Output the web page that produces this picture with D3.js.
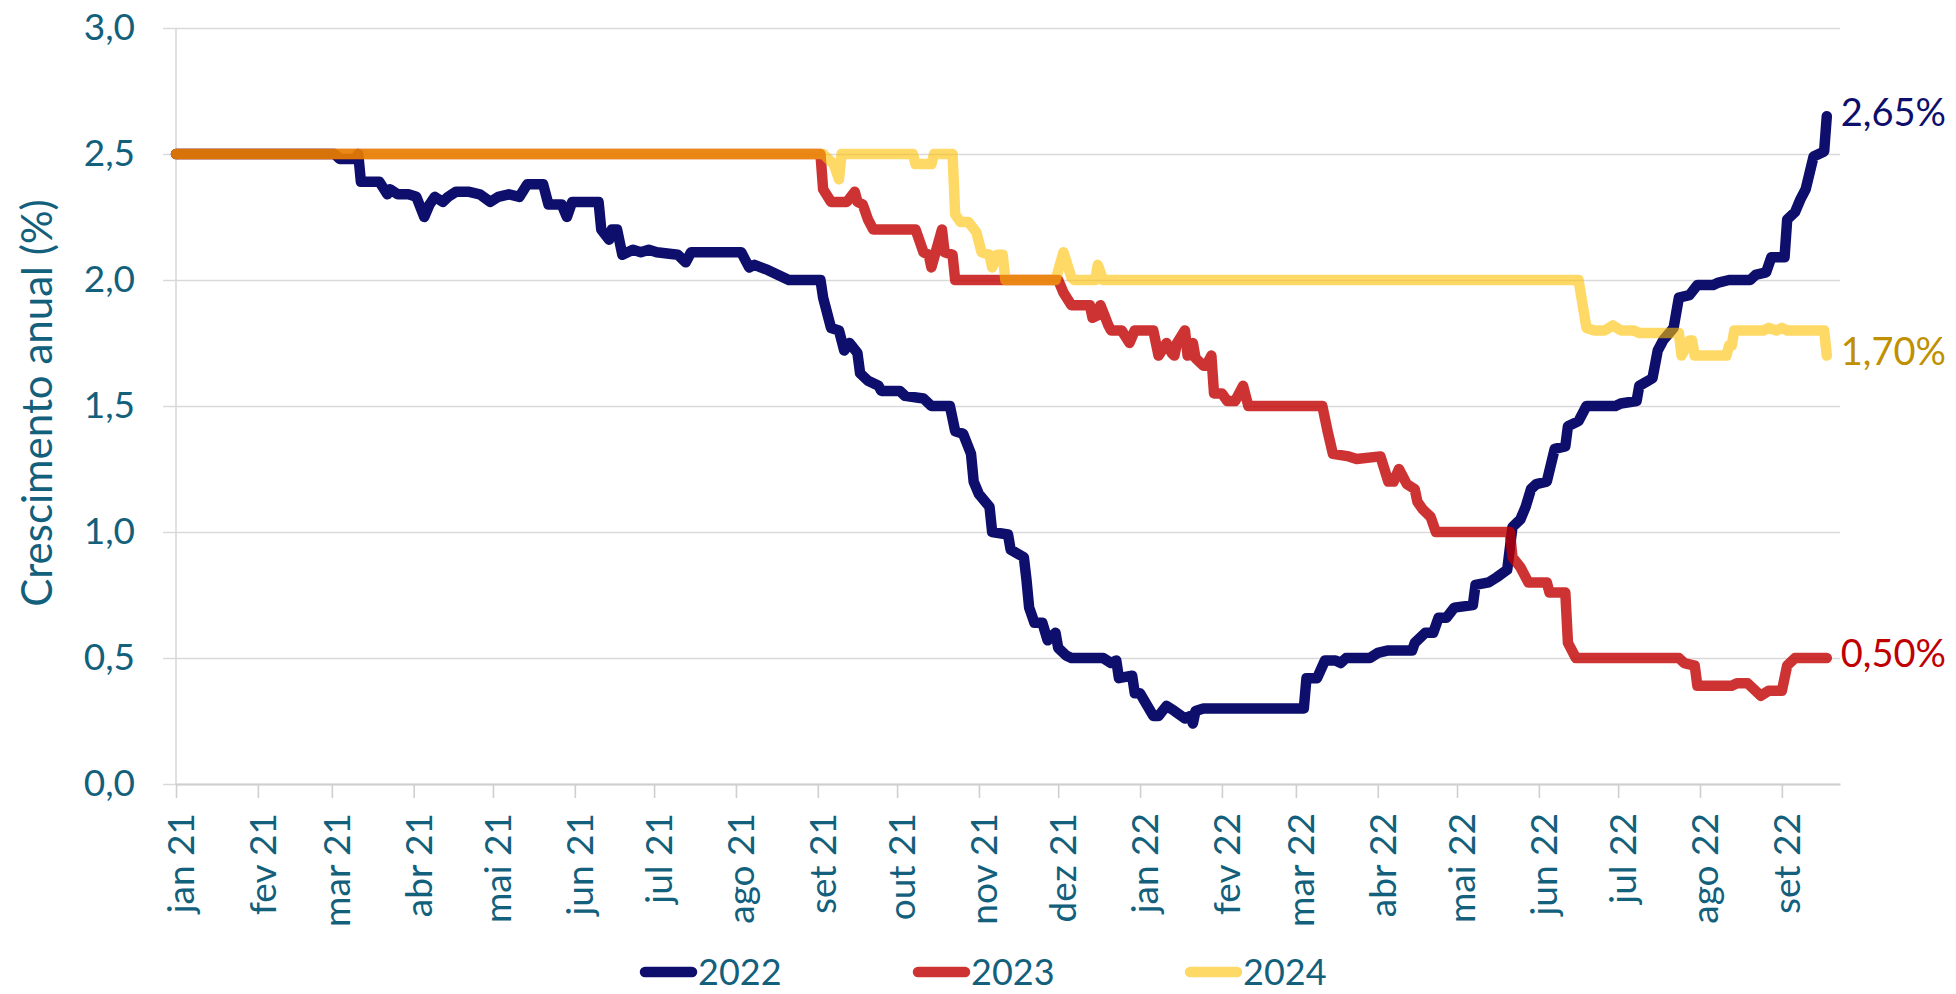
<!DOCTYPE html>
<html>
<head>
<meta charset="utf-8">
<script src="https://cdn.jsdelivr.net/npm/d3@7"></script>
<style>
  html, body { margin: 0; padding: 0; background: #fff; }
  svg { display: block; font-family: Lato, "Noto Sans", sans-serif; }
</style>
</head>
<body>
<svg id="chart" width="1956" height="994"></svg>
<script>
// valores (crescimento anual, %)
const series2022 = [
  ["2021-01-01",2.50],["2021-03-02",2.50],["2021-03-04",2.48],["2021-03-10",2.48],["2021-03-11",2.50],
  ["2021-03-12",2.39],["2021-03-19",2.39],["2021-03-22",2.34],["2021-03-23",2.36],["2021-03-26",2.34],
  ["2021-03-30",2.34],["2021-04-02",2.33],["2021-04-05",2.25],["2021-04-07",2.30],["2021-04-09",2.33],
  ["2021-04-12",2.31],["2021-04-14",2.33],["2021-04-17",2.35],["2021-04-22",2.35],["2021-04-26",2.34],
  ["2021-04-30",2.31],["2021-05-03",2.33],["2021-05-07",2.34],["2021-05-11",2.33],["2021-05-14",2.38],
  ["2021-05-20",2.38],["2021-05-22",2.30],["2021-05-27",2.30],["2021-05-29",2.25],["2021-05-31",2.31],
  ["2021-06-10",2.31],["2021-06-11",2.20],["2021-06-14",2.16],["2021-06-15",2.20],["2021-06-17",2.20],
  ["2021-06-19",2.10],["2021-06-23",2.12],["2021-06-26",2.11],["2021-06-29",2.12],["2021-07-02",2.11],
  ["2021-07-10",2.10],["2021-07-13",2.07],["2021-07-15",2.11],["2021-07-27",2.11],["2021-08-03",2.11],
  ["2021-08-06",2.05],["2021-08-08",2.06],["2021-08-13",2.04],["2021-08-17",2.02],["2021-08-21",2.00],
  ["2021-09-02",2.00],["2021-09-03",1.93],["2021-09-06",1.81],["2021-09-09",1.80],["2021-09-11",1.72],
  ["2021-09-13",1.75],["2021-09-16",1.71],["2021-09-17",1.63],["2021-09-20",1.60],["2021-09-24",1.58],
  ["2021-09-25",1.56],["2021-10-02",1.56],["2021-10-04",1.54],["2021-10-11",1.53],["2021-10-14",1.50],
  ["2021-10-21",1.50],["2021-10-23",1.40],["2021-10-26",1.39],["2021-10-29",1.31],["2021-10-30",1.20],
  ["2021-11-01",1.15],["2021-11-05",1.10],["2021-11-06",1.00],["2021-11-12",0.99],["2021-11-13",0.93],
  ["2021-11-18",0.90],["2021-11-19",0.81],["2021-11-20",0.70],["2021-11-22",0.64],["2021-11-25",0.64],
  ["2021-11-27",0.57],["2021-11-30",0.60],["2021-12-01",0.54],["2021-12-04",0.51],["2021-12-06",0.50],
  ["2021-12-18",0.50],["2021-12-21",0.48],["2021-12-23",0.49],["2021-12-24",0.42],["2021-12-29",0.43],
  ["2021-12-30",0.36],["2022-01-01",0.36],["2022-01-06",0.27],["2022-01-08",0.27],["2022-01-11",0.31],
  ["2022-01-14",0.29],["2022-01-18",0.26],["2022-01-20",0.27],["2022-01-21",0.24],["2022-01-22",0.29],
  ["2022-01-25",0.30],["2022-03-04",0.30],["2022-03-05",0.42],["2022-03-09",0.42],["2022-03-12",0.49],
  ["2022-03-16",0.49],["2022-03-18",0.48],["2022-03-20",0.50],["2022-03-29",0.50],["2022-04-01",0.52],
  ["2022-04-05",0.53],["2022-04-14",0.53],["2022-04-15",0.56],["2022-04-19",0.60],["2022-04-22",0.60],
  ["2022-04-24",0.66],["2022-04-27",0.66],["2022-04-30",0.70],["2022-05-07",0.71],["2022-05-08",0.79],
  ["2022-05-13",0.80],["2022-05-16",0.82],["2022-05-20",0.85],["2022-05-22",1.02],["2022-05-25",1.05],
  ["2022-05-27",1.10],["2022-05-29",1.17],["2022-05-31",1.19],["2022-06-04",1.20],["2022-06-07",1.33],
  ["2022-06-11",1.34],["2022-06-12",1.42],["2022-06-16",1.44],["2022-06-19",1.50],["2022-06-30",1.50],
  ["2022-07-02",1.51],["2022-07-08",1.52],["2022-07-09",1.58],["2022-07-14",1.61],["2022-07-16",1.72],
  ["2022-07-18",1.76],["2022-07-22",1.81],["2022-07-24",1.93],["2022-07-28",1.94],["2022-07-31",1.98],
  ["2022-08-06",1.98],["2022-08-08",1.99],["2022-08-12",2.00],["2022-08-20",2.00],["2022-08-22",2.02],
  ["2022-08-26",2.03],["2022-08-28",2.09],["2022-09-02",2.09],["2022-09-03",2.24],["2022-09-06",2.27],
  ["2022-09-08",2.32],["2022-09-10",2.36],["2022-09-13",2.49],["2022-09-15",2.50],["2022-09-17",2.51],
  ["2022-09-18",2.65]
];

const series2023 = [
  ["2021-01-01",2.50],["2021-09-02",2.50],["2021-09-03",2.36],["2021-09-06",2.31],["2021-09-12",2.31],
  ["2021-09-15",2.35],["2021-09-16",2.31],["2021-09-18",2.30],["2021-09-20",2.24],["2021-09-22",2.20],
  ["2021-10-08",2.20],["2021-10-11",2.11],["2021-10-13",2.10],["2021-10-14",2.05],["2021-10-18",2.20],
  ["2021-10-19",2.11],["2021-10-22",2.10],["2021-10-23",2.00],["2021-12-01",2.00],["2021-12-03",1.95],
  ["2021-12-06",1.90],["2021-12-13",1.90],["2021-12-14",1.85],["2021-12-16",1.86],["2021-12-17",1.90],
  ["2021-12-20",1.82],["2021-12-21",1.80],["2021-12-25",1.80],["2021-12-28",1.75],["2021-12-30",1.80],
  ["2022-01-06",1.80],["2022-01-08",1.70],["2022-01-11",1.75],["2022-01-13",1.71],["2022-01-14",1.70],
  ["2022-01-15",1.75],["2022-01-18",1.80],["2022-01-19",1.70],["2022-01-21",1.75],["2022-01-22",1.69],
  ["2022-01-25",1.66],["2022-01-26",1.66],["2022-01-28",1.70],["2022-01-29",1.55],["2022-02-01",1.55],
  ["2022-02-03",1.52],["2022-02-06",1.52],["2022-02-09",1.58],["2022-02-11",1.50],["2022-03-11",1.50],
  ["2022-03-13",1.40],["2022-03-15",1.31],["2022-03-21",1.30],["2022-03-24",1.29],["2022-04-02",1.30],
  ["2022-04-05",1.20],["2022-04-07",1.20],["2022-04-09",1.25],["2022-04-12",1.19],["2022-04-15",1.17],
  ["2022-04-16",1.12],["2022-04-18",1.09],["2022-04-21",1.06],["2022-04-23",1.00],["2022-05-21",1.00],
  ["2022-05-22",0.90],["2022-05-25",0.86],["2022-05-28",0.80],["2022-06-04",0.80],["2022-06-05",0.76],
  ["2022-06-11",0.76],["2022-06-12",0.56],["2022-06-15",0.50],["2022-07-24",0.50],["2022-07-26",0.48],
  ["2022-07-30",0.47],["2022-07-31",0.39],["2022-08-13",0.39],["2022-08-15",0.40],["2022-08-19",0.40],
  ["2022-08-24",0.35],["2022-08-27",0.37],["2022-09-01",0.37],["2022-09-03",0.47],["2022-09-06",0.50],
  ["2022-09-18",0.50]
];

const series2024 = [
  ["2021-01-01",2.50],["2021-09-03",2.50],["2021-09-07",2.46],["2021-09-09",2.40],["2021-09-10",2.50],
  ["2021-10-07",2.50],["2021-10-08",2.46],["2021-10-14",2.46],["2021-10-15",2.50],["2021-10-22",2.50],
  ["2021-10-23",2.26],["2021-10-25",2.23],["2021-10-28",2.23],["2021-10-31",2.19],["2021-11-02",2.11],
  ["2021-11-05",2.10],["2021-11-06",2.05],["2021-11-08",2.10],["2021-11-10",2.10],["2021-11-11",2.00],
  ["2021-11-30",2.00],["2021-12-03",2.11],["2021-12-06",2.01],["2021-12-07",2.00],["2021-12-15",2.00],
  ["2021-12-16",2.06],["2021-12-18",2.00],["2022-06-16",2.00],["2022-06-19",1.81],["2022-06-22",1.80],
  ["2022-06-26",1.80],["2022-06-29",1.82],["2022-07-02",1.80],["2022-07-07",1.80],["2022-07-09",1.79],
  ["2022-07-24",1.79],["2022-07-25",1.70],["2022-07-28",1.76],["2022-07-29",1.76],["2022-07-30",1.70],
  ["2022-08-11",1.70],["2022-08-12",1.74],["2022-08-13",1.74],["2022-08-14",1.80],["2022-08-25",1.80],
  ["2022-08-27",1.81],["2022-08-30",1.80],["2022-09-01",1.81],["2022-09-03",1.80],["2022-09-17",1.80],
  ["2022-09-18",1.70]
];

const seriesNames = ["2022", "2023", "2024"];
const yTicks = [0, 0.5, 1, 1.5, 2, 2.5, 3];
const monthNames = ["jan","fev","mar","abr","mai","jun","jul","ago","set","out","nov","dez"];
const axisTitle = "Crescimento anual (%)";

const colors = { "2022": "#0e0e6c", "2023": "#c00000", "2024": "#ffc000" };
const opac   = { "2022": 1, "2023": 0.8, "2024": 0.6 };
const labelColors = { "2022": "#0e0e6c", "2023": "#c00000", "2024": "#bf9000" };
const textCol = "#13607c";

const parse = d3.timeParse("%Y-%m-%d");
const data = {
  "2022": series2022.map(([d, v]) => ({ date: parse(d), v })),
  "2023": series2023.map(([d, v]) => ({ date: parse(d), v })),
  "2024": series2024.map(([d, v]) => ({ date: parse(d), v }))
};

const L = 176, R = 1840, T = 28, B = 784;
const svg = d3.select("#chart");

const x = d3.scaleTime().domain([parse("2021-01-01"), parse("2022-09-23")]).range([L, R]);
const y = d3.scaleLinear().domain([0, 3]).range([B, T]);

// grelha + eixo y
const yAxis = svg.append("g").attr("transform", `translate(163,0)`)
  .call(d3.axisLeft(y).tickValues(yTicks).tickSizeInner(-(R - 163)).tickSizeOuter(0).tickPadding(28)
    .tickFormat(d => d3.format(".1f")(d).replace(".", ",")));
yAxis.select(".domain").remove();
yAxis.selectAll(".tick line").attr("stroke", "#d9d9d9").attr("stroke-width", 1.6);
yAxis.selectAll(".tick text").attr("fill", textCol).style("font-size", "37px").style("font-family", "Lato");

svg.append("line").attr("x1", L).attr("x2", L).attr("y1", T).attr("y2", B)
  .attr("stroke", "#d9d9d9").attr("stroke-width", 1.6);

// eixo x (meses)
const months = d3.timeMonth.range(parse("2021-01-01"), parse("2022-09-23"));
const xAxis = svg.append("g").attr("transform", `translate(0,${B})`)
  .call(d3.axisBottom(x).tickValues(months).tickSizeInner(14).tickSizeOuter(0)
    .tickFormat(d => monthNames[d.getMonth()] + " " + d3.timeFormat("%y")(d)));
xAxis.select(".domain").attr("stroke", "#cfcfcf").attr("stroke-width", 1.8);
xAxis.selectAll(".tick line").attr("stroke", "#cfcfcf").attr("stroke-width", 1.6);
xAxis.selectAll(".tick text")
  .attr("transform", "rotate(-90)").attr("x", -29).attr("y", 0).attr("dy", "0.47em")
  .attr("text-anchor", "end").attr("fill", textCol)
  .style("font-size", "37px").style("font-family", "Lato");

// título do eixo y
svg.append("text").attr("transform", `translate(37,403) rotate(-90)`)
  .attr("text-anchor", "middle").attr("dy", "0.35em")
  .attr("fill", textCol).style("font-size", "42px").text(axisTitle);

// linhas
const line = d3.line().x(d => x(d.date)).y(d => y(d.v));
const linesG = svg.append("g");
seriesNames.forEach(s => {
  linesG.append("path").datum(data[s])
    .attr("fill", "none").attr("stroke", colors[s]).attr("stroke-opacity", opac[s])
    .attr("stroke-width", 10.5).attr("stroke-linejoin", "round").attr("stroke-linecap", "round")
    .attr("d", line);
});

// rótulos do último valor
seriesNames.forEach(s => {
  const last = data[s][data[s].length - 1];
  svg.append("text").attr("x", x(last.date) + 14).attr("y", y(last.v) - 4)
    .attr("dy", "0.35em").attr("fill", labelColors[s]).style("font-size", "38px")
    .text(last.v.toFixed(2).replace(".", ",") + "%");
});

// legenda
const legX = [640, 913, 1185];
const legY = 972;
seriesNames.forEach((s, i) => {
  const g = svg.append("g").attr("transform", `translate(${legX[i]},${legY})`);
  g.append("line").attr("x1", 5).attr("x2", 52).attr("y1", 0).attr("y2", 0)
    .attr("stroke", colors[s]).attr("stroke-opacity", opac[s])
    .attr("stroke-width", 10.5).attr("stroke-linecap", "round");
  g.append("text").attr("x", 58).attr("dy", "0.35em").attr("fill", textCol)
    .style("font-size", "36px").text(s);
});
</script>
</body>
</html>
